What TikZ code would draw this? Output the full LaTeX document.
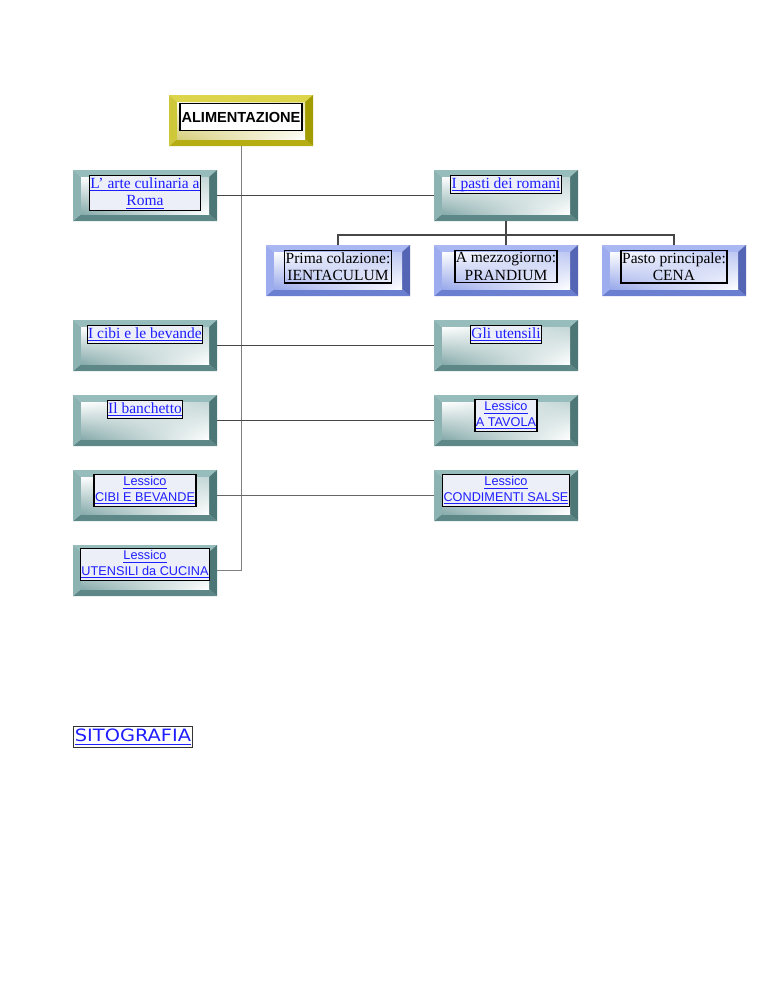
\documentclass[tikz,border=0pt]{standalone}
\usepackage{fontspec}
\setmainfont{Liberation Serif}
\newfontfamily\arialf{Liberation Sans}
\newfontfamily\dejaf{DejaVu Sans}
\usetikzlibrary{calc,shadings}
\newcommand\uln[1]{\setbox0=\hbox{#1}\leavevmode\rlap{\vrule width\wd0 height -1.9pt depth 2.8pt}\box0}
\definecolor{linkblue}{RGB}{30,30,255}
\definecolor{lblbg}{RGB}{236,238,248}
% teal palette
\definecolor{tT}{HTML}{97BCBC}\definecolor{tL}{HTML}{8DB2B2}
\definecolor{tR}{HTML}{4D7676}\definecolor{tB}{HTML}{5E8888}
\definecolor{tUL}{HTML}{FFFFFF}\definecolor{tUR}{HTML}{C2D5D5}
\definecolor{tLL}{HTML}{86AAAA}\definecolor{tLR}{HTML}{FFFFFF}
% blue palette
\definecolor{bT}{HTML}{A9B7F2}\definecolor{bL}{HTML}{9CACEE}
\definecolor{bR}{HTML}{5565B5}\definecolor{bB}{HTML}{6A7FD0}
\definecolor{bUL}{HTML}{FFFFFF}\definecolor{bUR}{HTML}{BCC7F2}
\definecolor{bLL}{HTML}{98A8EA}\definecolor{bLR}{HTML}{FFFFFF}
% yellow palette
\definecolor{yT}{HTML}{DCD44A}\definecolor{yL}{HTML}{CFC73A}
\definecolor{yR}{HTML}{A39C00}\definecolor{yB}{HTML}{B5AD12}
\definecolor{yUL}{HTML}{FBFAEA}\definecolor{yUR}{HTML}{E8E2A6}
\definecolor{yLL}{HTML}{D6CE7A}\definecolor{yLR}{HTML}{FFFFFF}
\newcommand\bvpic[8]{%
  \path (path picture bounding box.south west) coordinate (q1)
        (path picture bounding box.north east) coordinate (q2)
        (path picture bounding box.north west) coordinate (q3)
        (path picture bounding box.south east) coordinate (q4);
  \path ([xshift=8pt,yshift=7pt]q1) coordinate (i1)
        ([xshift=-8pt,yshift=-7pt]q2) coordinate (i2)
        ([xshift=8pt,yshift=-7pt]q3) coordinate (i3)
        ([xshift=-8pt,yshift=7pt]q4) coordinate (i4);
  \fill[#1] (q3)--(q2)--(i2)--(i3)--cycle;
  \fill[#4] (q1)--(q4)--(i4)--(i1)--cycle;
  \fill[#2] (q1)--(q3)--(i3)--(i1)--cycle;
  \fill[#3] (q4)--(q2)--(i2)--(i4)--cycle;
  \shade[upper left=#5,upper right=#6,lower left=#7,lower right=#8] (i1) rectangle (i2);
}
\tikzset{
  bx/.style={minimum width=144pt, minimum height=51pt, inner sep=0pt, outer sep=0pt, fill=white},
  tealbox/.style={bx, path picture={\bvpic{tT}{tL}{tR}{tB}{tUL}{tUR}{tLL}{tLR}}},
  bluebox/.style={bx, path picture={\bvpic{bT}{bL}{bR}{bB}{bUL}{bUR}{bLL}{bLR}}},
  yellowbox/.style={bx, path picture={\bvpic{yT}{yL}{yR}{yB}{yUL}{yUR}{yLL}{yLR}}},
  lbl/.style={draw=black, line width=1.3pt, inner xsep=1pt, inner ysep=2pt, anchor=north,
    align=center, text=linkblue, fill=lblbg, font=\fontsize{15.5}{17.5}\selectfont},
  blbl/.style={lbl, text=black, fill=none},
  slbl/.style={lbl, font=\arialf\fontsize{12.7}{15.5}\selectfont},
  conn/.style={draw=black!72, line width=1.2pt},
  trunk/.style={draw=black!50, line width=1pt},
}
\begin{document}
\begin{tikzpicture}[x=1pt,y=-1pt]
\useasboundingbox (0,0) rectangle (768,994);
% boxes
\node[yellowbox] (alim) at (241,120.5) {};
\node[tealbox] (arte) at (145,195.5) {};
\node[tealbox] (pasti) at (506,195.5) {};
\node[bluebox] (prima) at (338,270.5) {};
\node[bluebox] (mezzo) at (506,270.5) {};
\node[bluebox] (pasto) at (674,270.5) {};
\node[tealbox] (cibi) at (145,345.5) {};
\node[tealbox] (gliut) at (506,345.5) {};
\node[tealbox] (banch) at (145,420.5) {};
\node[tealbox] (tavola) at (506,420.5) {};
\node[tealbox] (lcibi) at (145,495.5) {};
\node[tealbox] (condi) at (506,495.5) {};
\node[tealbox] (luten) at (145,570.5) {};
% labels
\node[draw=black, line width=1.3pt, anchor=north, minimum width=122pt, minimum height=27pt, inner sep=0pt,
  fill=white, font=\arialf\bfseries\fontsize{14.6}{17}\selectfont] (alimt) at ([yshift=-8pt]alim.north) {ALIMENTAZIONE};
\node[lbl] (artet) at ([yshift=-5pt]arte.north) {\uln{L’ arte culinaria a}\\\uln{Roma}};
\node[lbl] (pastit) at ([yshift=-5pt]pasti.north) {\uln{I pasti dei romani}};
\node[blbl] (primat) at ([yshift=-5pt]prima.north) {Prima colazione:\\IENTACULUM};
\node[blbl] (mezzot) at ([yshift=-5pt]mezzo.north) {A mezzogiorno:\\PRANDIUM};
\node[blbl] (pastot) at ([yshift=-5pt]pasto.north) {Pasto principale:\\CENA};
\node[lbl] (cibit) at ([yshift=-5pt]cibi.north) {\uln{I cibi e le bevande}};
\node[lbl] (gliutt) at ([yshift=-5pt]gliut.north) {\uln{Gli utensili}};
\node[lbl] (bancht) at ([yshift=-5pt]banch.north) {\uln{Il banchetto}};
\node[slbl] (tavolat) at ([yshift=-4pt]tavola.north) {\uln{Lessico}\\\uln{A TAVOLA}};
\node[slbl] (lcibit) at ([yshift=-4pt]lcibi.north) {\uln{Lessico}\\\uln{CIBI E BEVANDE}};
\node[slbl] (condit) at ([yshift=-4pt]condi.north) {\uln{Lessico}\\\uln{CONDIMENTI SALSE}};
\node[slbl] (lutent) at ([yshift=-3pt]luten.north) {\uln{Lessico}\\\uln{UTENSILI da CUCINA}};
\node[draw=black!80, line width=1pt, inner xsep=1pt, inner ysep=2.5pt, text=linkblue,
  font=\dejaf\fontsize{17}{20}\selectfont] (sito) at (133,737) {\scalebox{1.14}[1]{\uln{SITOGRAFIA}}};
% connectors
\draw[trunk] (alim.south) |- (luten.east);
\draw[conn] (arte.east) -- (pasti.west);
\coordinate (bus) at (506,235);
\draw[conn] (pasti.south) -- (bus);
\draw[conn] (prima.north) |- (bus) -| (pasto.north);
\draw[conn] (mezzo.north) -- (bus);
\draw[conn] (cibi.east) -- (gliut.west);
\draw[conn] (banch.east) -- (tavola.west);
\draw[conn, draw=black!60] (lcibi.east) -- (condi.west);
\end{tikzpicture}
\end{document}
